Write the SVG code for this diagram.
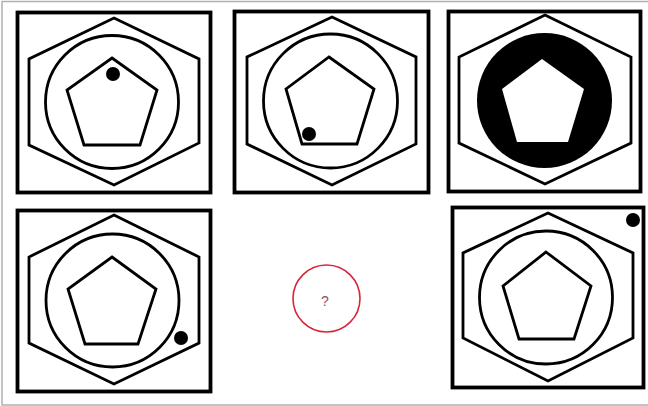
<svg xmlns="http://www.w3.org/2000/svg" width="648" height="406" viewBox="0 0 648 406">
<style>
.box{fill:#fff;stroke:#000;stroke-width:3.8}
.ln{fill:none;stroke:#000;stroke-width:2.8;stroke-linejoin:miter}
.dot{fill:#000}
</style>
<rect x="0" y="0" width="648" height="406" fill="#fff"/>
<rect x="2" y="1.5" width="660" height="403.5" fill="none" stroke="#b0b0b0" stroke-width="1.5"/>
<g id="panel1">
<rect class="box" x="17.5" y="12.5" width="193" height="180"/>
<polygon class="ln" points="114,18 199,59 199,143 114,185 29,145 29,59"/>
<circle class="ln" cx="112" cy="102" r="66.5"/>
<polygon class="ln" points="112,58 157,90 140,145 84,145 67,90"/>
<circle class="dot" cx="113" cy="74" r="7"/>
</g>
<g id="panel2">
<rect class="box" x="234.5" y="11.5" width="194" height="181"/>
<polygon class="ln" points="332,17 416,57 416,144 332,185 247,144 247,57"/>
<circle class="ln" cx="330.5" cy="101" r="67"/>
<polygon class="ln" points="329,57 374,89 357,144 302,144 286,89"/>
<circle class="dot" cx="309" cy="134" r="7"/>
</g>
<g id="panel3">
<rect class="box" x="448.5" y="11.5" width="192" height="180"/>
<polygon class="ln" points="545,15 631,57 631,143 545,184 459,143 459,57"/>
<circle class="dot" cx="544.5" cy="100.5" r="67.5"/>
<polygon fill="#fff" points="542,59 584,89 568,142 517,142 502,89"/>
</g>
<g id="panel4">
<rect class="box" x="17.5" y="210.5" width="193" height="181"/>
<polygon class="ln" points="114,215 199,257 199,343 114,384 29,343 29,257"/>
<circle class="ln" cx="112.5" cy="300.5" r="66.5"/>
<polygon class="ln" points="112,257 156,289 138,344 85,344 68,289"/>
<circle class="dot" cx="181" cy="338" r="7"/>
</g>
<g id="panel5">
<rect class="box" x="452.5" y="207.5" width="191" height="180"/>
<polygon class="ln" points="548,213 633,253 633,338 548,381 463,338 463,253"/>
<circle class="ln" cx="546" cy="297.5" r="66.5"/>
<polygon class="ln" points="546,252 591,286 574,339 519,339 503,286"/>
<circle class="dot" cx="633" cy="220" r="7"/>
</g>
<g id="question">
<circle cx="326.5" cy="298.5" r="33.5" fill="none" stroke="#d7263a" stroke-width="1.6"/>
<text x="325" y="306" font-family="Liberation Sans, Arial, sans-serif" font-size="14" fill="#8e5560" text-anchor="middle">?</text>
</g>
</svg>
